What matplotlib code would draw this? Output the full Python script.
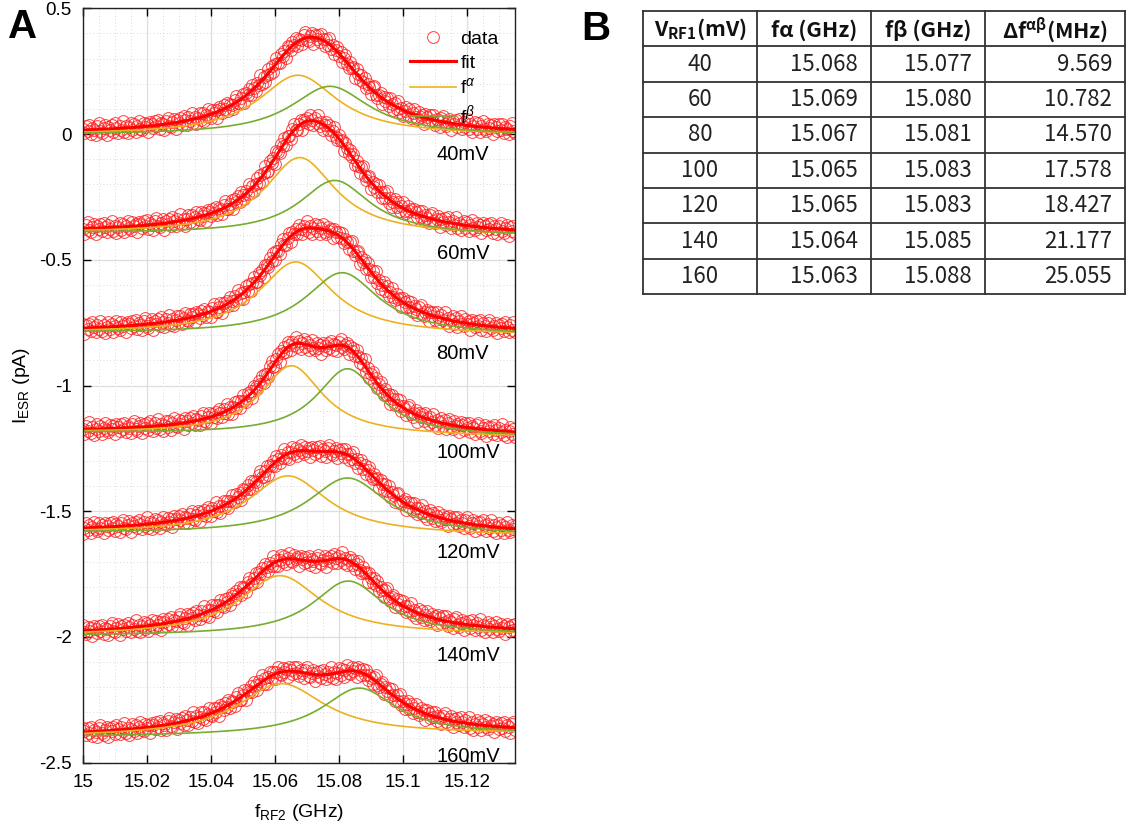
import numpy as np
import matplotlib
matplotlib.use('Agg')
import matplotlib.pyplot as plt
from matplotlib.ticker import MultipleLocator, FixedLocator

# table values (panel B)
v_rf1 = [40, 60, 80, 100, 120, 140, 160]
f_alpha = [15.068, 15.069, 15.067, 15.065, 15.065, 15.064, 15.063]
f_beta = [15.077, 15.080, 15.081, 15.083, 15.083, 15.085, 15.088]
df_ab = [9.569, 10.782, 14.570, 17.578, 18.427, 21.177, 25.055]

# Lorentzian fit parameters (pA / GHz)
cen_alpha = [15.0672, 15.0678, 15.0665, 15.0652, 15.0641, 15.0616, 15.0620]
cen_beta = [15.0772, 15.0787, 15.0810, 15.0827, 15.0827, 15.0829, 15.0863]
amp_alpha = [0.238, 0.306, 0.287, 0.275, 0.232, 0.237, 0.206]
amp_beta = [0.194, 0.216, 0.245, 0.265, 0.225, 0.215, 0.186]
hw_alpha = [0.015, 0.0135, 0.014, 0.0118, 0.015, 0.0155, 0.0165]
hw_beta = [0.015, 0.0135, 0.014, 0.0118, 0.015, 0.0135, 0.014]
base_left = [-0.003, -0.394, -0.791, -1.188, -1.586, -1.995, -2.397]
base_right = [-0.005, -0.405, -0.800, -1.205, -1.597, -1.991, -2.385]

# residual pattern of the measured points around the fit
resid = [0.006, -0.011, 0.016, -0.004, 0.02, -0.017, 0.008, 0.0, -0.021, 0.013,
         0.024, -0.008, -0.014, 0.004, 0.017, -0.025, 0.01, -0.003, 0.014, -0.013,
         0.021, 0.003, -0.018, 0.011, -0.006, 0.027, -0.015, 0.007, -0.022, 0.001,
         0.018, -0.01, 0.013, -0.02, 0.004, 0.023, -0.007, -0.014, 0.016, -0.001,
         0.01, -0.024, 0.017]

f_data = np.arange(15.0, 15.1351, 0.0005)
f_fit = np.linspace(15.0, 15.135, 600)

C_ALPHA = '#EDB120'
C_BETA = '#77AC30'
TFONT = ['Noto Sans CJK KR', 'Noto Sans', 'DejaVu Sans']

plt.rcParams['font.family'] = ['Liberation Sans', 'DejaVu Sans']
plt.rcParams['mathtext.fontset'] = 'custom'
plt.rcParams['mathtext.rm'] = 'Liberation Sans'
plt.rcParams['mathtext.it'] = 'Liberation Sans:italic'
plt.rcParams['mathtext.bf'] = 'Noto Sans CJK KR:bold'


def lor(f, a, f0, g):
    return a / (1 + ((f - f0) / g) ** 2)


fig = plt.figure(figsize=(11.29, 8.34), dpi=100)
ax = fig.add_axes([0.0733, 0.0855, 0.3829, 0.9045])

for i in range(len(v_rf1)):
    def bg(f):
        return base_left[i] + (base_right[i] - base_left[i]) * (f - 15.0) / 0.135

    def comp_a(f):
        return lor(f, amp_alpha[i], cen_alpha[i], hw_alpha[i])

    def comp_b(f):
        return lor(f, amp_beta[i], cen_beta[i], hw_beta[i])

    r = np.array([resid[(k + 7 * i) % len(resid)] for k in range(len(f_data))])
    y_data = bg(f_data) + comp_a(f_data) + comp_b(f_data) + r
    h_d, = ax.plot(f_data, y_data, 'o', mfc='none', mec='#ff2020', mew=0.7,
                   ms=8.5, alpha=0.85, label='data')
    h_f, = ax.plot(f_fit, bg(f_fit) + comp_a(f_fit) + comp_b(f_fit), '-',
                   color='red', lw=2.2, label='fit')
    h_a, = ax.plot(f_fit, bg(f_fit) + comp_a(f_fit), color=C_ALPHA, lw=1.2,
                   label=r'f$^{\alpha}$')
    h_b, = ax.plot(f_fit, bg(f_fit) + comp_b(f_fit), color=C_BETA, lw=1.2,
                   label=r'f$^{\beta}$')
    ax.text(15.1105, base_left[i] - 0.08, '%dmV' % v_rf1[i], fontsize=14.5,
            va='center', ha='left')

ax.set_xlim(15.0, 15.135)
ax.set_ylim(-2.5, 0.5)
ax.xaxis.set_major_locator(FixedLocator([15.0, 15.02, 15.04, 15.06, 15.08, 15.1, 15.12]))
ax.set_xticklabels(['15', '15.02', '15.04', '15.06', '15.08', '15.1', '15.12'])
ax.yaxis.set_major_locator(FixedLocator([-2.5, -2, -1.5, -1, -0.5, 0, 0.5]))
ax.set_yticklabels(['-2.5', '-2', '-1.5', '-1', '-0.5', '0', '0.5'])
ax.xaxis.set_minor_locator(MultipleLocator(0.005))
ax.yaxis.set_minor_locator(MultipleLocator(0.1))
ax.tick_params(which='major', direction='in', length=6, width=1, top=True, right=True,
               labelsize=13.5, pad=8)
ax.tick_params(which='minor', length=0)
ax.grid(which='major', color='#dedede', lw=0.9)
ax.grid(which='minor', color='#cfcfcf', lw=0.6, ls=(0, (1, 3)))
ax.set_axisbelow(True)
for s in ax.spines.values():
    s.set_linewidth(1.0)
    s.set_color('#222222')

ax.set_xlabel(r'f$_{\mathrm{RF2}}$ (GHz)', fontsize=14, labelpad=8)
ax.set_ylabel(r'I$_{\mathrm{ESR}}$ (pA)', fontsize=14)
ax.yaxis.set_label_coords(-0.118, 0.5)

ax.legend(handles=[h_d, h_f, h_a, h_b], loc='upper right', frameon=False,
          fontsize=14, labelspacing=0.3, handlelength=2.4, handletextpad=0.2,
          borderaxespad=0.0, bbox_to_anchor=(0.98, 0.981))

fig.text(0.007, 0.9544, 'A', fontsize=29, fontweight='bold', va='baseline')
fig.text(0.515, 0.952, 'B', fontsize=29, fontweight='bold', va='baseline')

# panel B: table drawn in pixel coordinates
axt = fig.add_axes([0, 0, 1, 1])
axt.set_xlim(0, 1129)
axt.set_ylim(834, 0)
axt.axis('off')

col_w = [114, 114, 114, 140]
x0, y0, row_h = 643, 11, 35.4
col_x = np.concatenate([[x0], x0 + np.cumsum(col_w)])
n_rows = len(v_rf1) + 1
for k in range(n_rows + 1):
    axt.plot([col_x[0], col_x[-1]], [y0 + k * row_h] * 2, color='#333333', lw=1.3)
for cx in col_x:
    axt.plot([cx, cx], [y0, y0 + n_rows * row_h], color='#333333', lw=1.3)

headers = [r'V$_{\mathbf{RF1}}$(mV)', 'fα (GHz)', 'fβ (GHz)', r'Δf$^{\mathbf{αβ}}$(MHz)']
for j, h in enumerate(headers):
    axt.text((col_x[j] + col_x[j + 1]) / 2, y0 + row_h / 2 + 1, h, ha='center', va='center',
             fontsize=15.5, fontweight='bold', family=TFONT, color='#111111')

for r in range(len(v_rf1)):
    yc = y0 + (r + 1.5) * row_h
    cells = ['%d' % v_rf1[r], '%.3f' % f_alpha[r], '%.3f' % f_beta[r], '%.3f' % df_ab[r]]
    axt.text((col_x[0] + col_x[1]) / 2, yc, cells[0], ha='center', va='center',
             fontsize=16, family=TFONT, color='#222222')
    for j in range(1, 4):
        axt.text(col_x[j + 1] - 13, yc, cells[j], ha='right', va='center',
                 fontsize=16, family=TFONT, color='#222222')

fig.savefig('out.png', dpi=100)
